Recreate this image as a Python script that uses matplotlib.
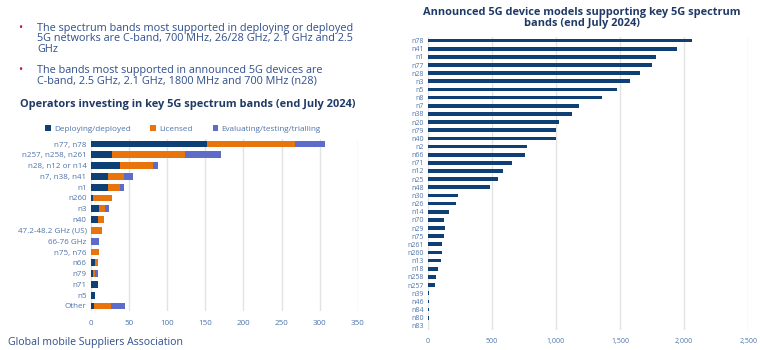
import numpy as np
import matplotlib.pyplot as plt

plt.rcParams['font.family'] = ['Open Sans', 'DejaVu Sans']

# operators investing in key 5G spectrum bands (end July 2024)
op_bands = ['n77, n78', 'n257, n258, n261', 'n28, n12 or n14', 'n7, n38, n41', 'n1',
            'n260', 'n3', 'n40', '47.2-48.2 GHz (US)', '66-76 GHz', 'n75, n76',
            'n66', 'n79', 'n71', 'n5', 'Other']
deployed = [152, 28, 38, 22, 22, 3, 11, 9, 0, 0, 1, 5, 3, 9, 5, 4]
licensed = [116, 95, 44, 22, 16, 25, 8, 8, 15, 0, 10, 5, 3, 0, 1, 22]
evaluating = [39, 47, 6, 12, 6, 0, 5, 0, 0, 11, 0, 0, 4, 0, 0, 19]

# announced 5G device models supporting key bands
dev_bands = ['n78', 'n41', 'n1', 'n77', 'n28', 'n3', 'n5', 'n8', 'n7', 'n38', 'n20',
             'n79', 'n40', 'n2', 'n66', 'n71', 'n12', 'n25', 'n48', 'n30', 'n26',
             'n14', 'n70', 'n29', 'n75', 'n261', 'n260', 'n13', 'n18', 'n258',
             'n257', 'n39', 'n46', 'n84', 'n80', 'n83']
dev_models = [2063, 1941, 1783, 1749, 1655, 1577, 1476, 1362, 1182, 1125, 1026,
              998, 998, 777, 761, 655, 590, 548, 483, 234, 218, 169, 130, 135,
              127, 112, 112, 107, 83, 62, 55, 13, 13, 13, 13, 5]

navy = '#0e3f75'
orange = '#e8740c'
violet = '#5c6cc8'
tick_col = '#4f74aa'
text_col = '#2f4f8c'
title_col = '#1f3a66'
grid_col = '#e3e3e3'

W, H = 760, 350
fig = plt.figure(figsize=(W / 100, H / 100), dpi=100)
fig.patch.set_facecolor('white')


def box(x0, y0, x1, y1):
    # pixel box (top-left origin) -> figure fraction
    return [x0 / W, 1 - y1 / H, (x1 - x0) / W, (y1 - y0) / H]


# bullets
bullets = [(28, ['The spectrum bands most supported in deploying or deployed',
                 '5G networks are C-band, 700 MHz, 26/28 GHz, 2.1 GHz and 2.5',
                 'GHz']),
           (70, ['The bands most supported in announced 5G devices are',
                 'C-band, 2.5 GHz, 2.1 GHz, 1800 MHz and 700 MHz (n28)'])]
for y, lines in bullets:
    fig.text(20 / W, 1 - y / H, '\u2022', color='#c0143c', fontsize=8, va='center', ha='center')
    fig.text(37 / W, 1 - (y - 5.5) / H, '\n'.join(lines), color=text_col, fontsize=7.8,
             va='top', ha='left', linespacing=1.0)

fig.text(20 / W, 1 - 104 / H, 'Operators investing in key 5G spectrum bands (end July 2024)',
         color=title_col, fontsize=7.9, fontweight='bold', va='center', ha='left')

# left stacked chart
ax1 = fig.add_axes(box(90.7, 138.6, 358, 311.4))
y1 = np.arange(len(op_bands))
dep = np.array(deployed)
lic = np.array(licensed)
ev = np.array(evaluating)
ax1.barh(y1, dep, height=0.62, color=navy, label='Deploying/deployed', zorder=3)
ax1.barh(y1, lic, left=dep, height=0.62, color=orange, label='Licensed', zorder=3)
ax1.barh(y1, ev, left=dep + lic, height=0.62, color=violet,
         label='Evaluating/testing/trialling', zorder=3)
ax1.set_ylim(len(op_bands) - 0.5, -0.5)
ax1.set_xlim(0, 350)
ax1.set_xticks(np.arange(0, 351, 50))
ax1.set_yticks(y1)
ax1.set_yticklabels(op_bands)
ax1.tick_params(axis='both', length=0, labelsize=5.8, colors=tick_col, pad=3)
ax1.tick_params(axis='x', pad=6)
ax1.grid(axis='x', color=grid_col, linewidth=1, zorder=0)
for s in ax1.spines.values():
    s.set_visible(False)
ax1.legend(loc='lower center', bbox_to_anchor=(0.345, 1.0), ncol=3, frameon=False,
           fontsize=5.9, handlelength=0.7, handleheight=0.7, handletextpad=0.4,
           columnspacing=2.4, labelcolor=tick_col, borderpad=0.2)

# source line, sits at the very bottom edge like in the original
fig.text(8 / W, 1 - 337.5 / H, 'Global mobile Suppliers Association', color=text_col,
         fontsize=7.6, va='top', ha='left')

# right chart
fig.text(582 / W, 1 - 18 / H,
         'Announced 5G device models supporting key 5G spectrum\nbands (end July 2024)',
         color=title_col, fontsize=7.9, fontweight='bold', va='center', ha='center',
         linespacing=1.05)
ax2 = fig.add_axes(box(427.7, 36.5, 748.3, 329.9))
y2 = np.arange(len(dev_bands))
ax2.barh(y2, dev_models, height=0.45, color=navy, zorder=3)
ax2.set_ylim(len(dev_bands) - 0.5, -0.5)
ax2.set_xlim(0, 2500)
ax2.set_xticks(np.arange(0, 2501, 500))
ax2.set_xticklabels(['0', '500', '1,000', '1,500', '2,000', '2,500'])
ax2.set_yticks(y2)
ax2.set_yticklabels(dev_bands)
ax2.tick_params(axis='both', length=0, labelsize=5.0, colors=tick_col, pad=3)
ax2.tick_params(axis='x', pad=6)
ax2.grid(axis='x', color=grid_col, linewidth=1, zorder=0)
for s in ax2.spines.values():
    s.set_visible(False)

fig.savefig('out.png', dpi=100)
